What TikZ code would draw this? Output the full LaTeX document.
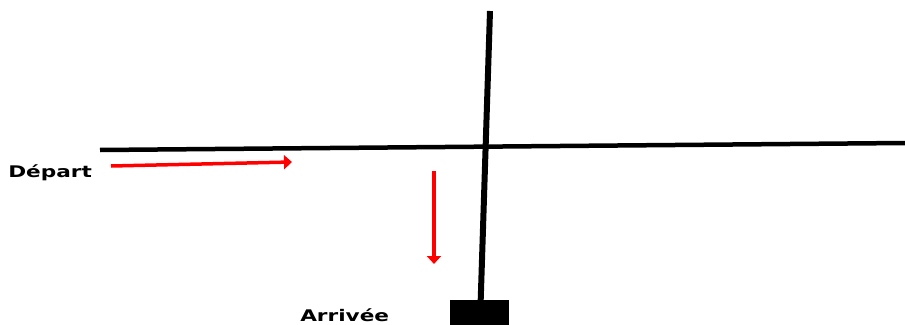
\documentclass[tikz,border=0pt]{standalone}
\usepackage{fontspec}
\setmainfont{DejaVu Sans}
\usetikzlibrary{arrows.meta}

\begin{document}
\begin{tikzpicture}[
  x=1pt, y=-1pt,
  wall/.style={line width=4.5pt, black},
  pole/.style={line width=6pt, black},
  move/.style={-{Triangle[width=14pt,length=8pt]}, line width=3.5pt, red},
  lbl/.style={font=\bfseries\fontsize{16}{16}\selectfont, xscale=1.35, inner sep=0pt},
]
\useasboundingbox (0,0) rectangle (905,324);

% barre horizontale
\coordinate (wl) at (100,150);
\coordinate (wr) at (905,143);
\draw[wall] (wl) -- (wr);

% poteau et socle
\node[fill=black, minimum width=59pt, minimum height=26pt, inner sep=0pt, anchor=north west] (base) at (450,300) {};
\coordinate (top) at (490,11);
\draw[pole] (top) -- ([xshift=1pt]base.north);

% textes
\node[lbl, anchor=base west] (dep) at (8,177) {Départ};
\node[lbl, anchor=base west] (arr) at (300,321) {Arrivée};

% fleches
\coordinate (a1) at (111,166);
\coordinate (a2) at (292,162);
\draw[move] (a1) -- (a2);
\coordinate (b1) at (434,171);
\coordinate (b2) at (434,264);
\draw[move] (b1) -- (b2);
\end{tikzpicture}
\end{document}
